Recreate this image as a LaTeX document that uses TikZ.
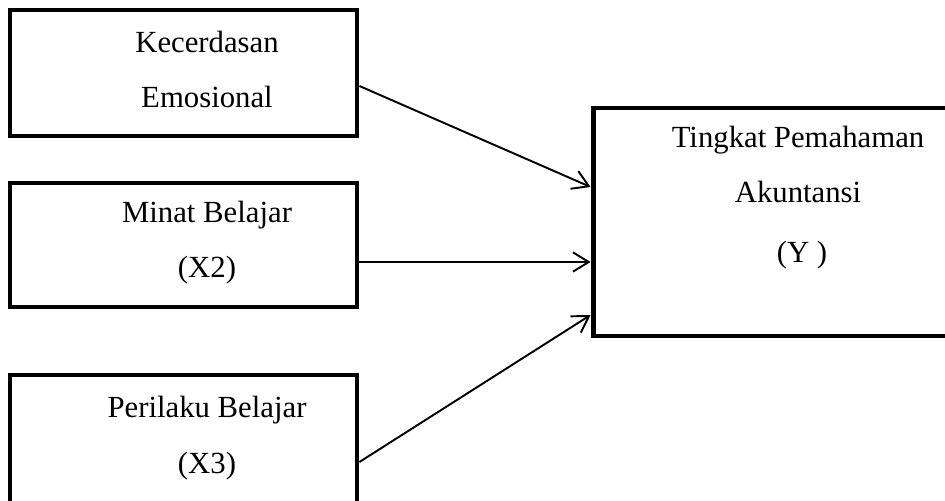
\documentclass[tikz,border=0pt]{standalone}
\usepackage{fontspec}
\setmainfont{Liberation Serif}
\usetikzlibrary{arrows.meta, positioning, calc}

\begin{document}
\begin{tikzpicture}[
        x=0.02cm, y=0.02cm,
        varbox/.style={draw, rectangle, line width=2.8pt, minimum width=6.94cm, inner sep=0pt},
        txt/.style={anchor=base, font=\fontsize{17.5}{21}\selectfont, inner sep=0pt},
        link/.style={-{Straight Barb[length=9pt, width=11pt]}, line width=1.1pt}
    ]
        \useasboundingbox (0,0) rectangle (945,500);
        \clip (0,0) rectangle (945,500);

        % variable boxes
        \node[varbox, minimum height=2.52cm] (emosi) at (183.5,427) {};
        \node[varbox, minimum height=2.48cm] (minat) at (183.5,255) {};
        \node[varbox, minimum height=2.6cm] (perilaku) at (183.5,60) {};
        \node[varbox, minimum width=7.34cm, minimum height=4.56cm] (paham) at (776.5,278) {};

        % box texts
        \node[txt] (emosiA) at (207,447) {Kecerdasan};
        \node[txt] (emosiB) at (207,392) {Emosional};
        \node[txt] (minatA) at (207,277) {Minat Belajar};
        \node[txt] (minatB) at (207,222) {(X2)};
        \node[txt] (perilakuA) at (207,83) {Perilaku Belajar};
        \node[txt] (perilakuB) at (207,27) {(X3)};
        \node[txt] (pahamA) at (798,352) {Tingkat Pemahaman};
        \node[txt] (pahamB) at (798,297) {Akuntansi};
        \node[txt] (pahamC) at (802,237) {(Y )};

        % arrows
        \draw[link] ($(emosi.east)+(0,-13)$) -- ($(paham.west)+(0,35)$);
        \draw[link] ($(minat.east)+(0,-17)$) -- ($(paham.west)+(0,-40)$);
        \draw[link] ($(perilaku.east)+(0,-22)$) -- ($(paham.west)+(0,-93)$);
    \end{tikzpicture}
\end{document}
